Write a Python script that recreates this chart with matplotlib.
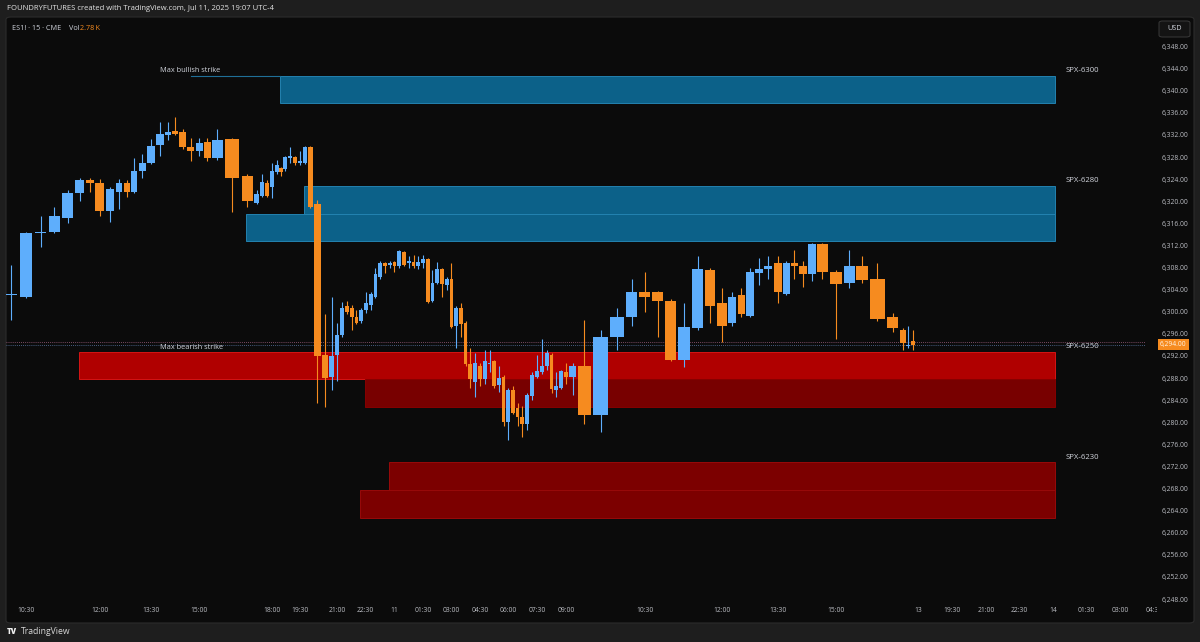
import numpy as np
import pandas as pd
import matplotlib
matplotlib.use("Agg")
import matplotlib.pyplot as plt
from matplotlib.patches import Rectangle, FancyBboxPatch
from matplotlib.transforms import blended_transform_factory

# ---------------------------------------------------------------
# ES1! 15 min bars, Jul 10 10:15 -> Jul 11 16:45 (UTC-4)
# ---------------------------------------------------------------

opens = [6303.0, 6302.75, 6314.25, 6314.5, 6317.0, 6321.5, 6323.75, 6323.25, 6318.25, 6321.75,
         6323.25, 6321.75, 6325.5, 6327.0, 6330.25, 6332.0, 6332.75, 6332.5, 6329.75, 6329.0,
         6330.75, 6327.75, 6331.25, 6324.5, 6319.75, 6321.0, 6323.25, 6322.5, 6325.25, 6326.0,
         6325.75, 6327.75, 6328.0, 6327.0, 6327.0, 6329.75, 6319.5, 6292.25, 6288.25, 6292.25,
         6295.75, 6301.0, 6300.75, 6299.0, 6298.25, 6300.25, 6301.25, 6302.75, 6306.25, 6308.75,
         6308.5, 6309.0, 6308.25, 6310.75, 6308.75, 6309.0, 6308.25, 6308.75, 6309.5, 6302.0,
         6305.25, 6307.75, 6304.75, 6306.0, 6297.5, 6300.75, 6298.0, 6290.5, 6287.25, 6290.25,
         6287.75, 6290.5, 6291.0, 6286.75, 6288.25, 6280.0, 6285.75, 6282.5, 6281.0, 6279.75,
         6284.75, 6288.25, 6289.0, 6290.25, 6292.25, 6285.75, 6286.25, 6289.0, 6288.25, 6290.25,
         6281.25, 6295.5, 6299.0, 6303.5, 6303.5, 6302.0, 6291.25, 6297.0, 6307.5, 6301.5,
         6298.0, 6303.0, 6299.25, 6307.0, 6307.75, 6308.75, 6303.25, 6308.75, 6308.25, 6306.75,
         6312.25, 6307.25, 6305.25, 6308.25, 6306.0, 6299.0, 6296.75, 6293.75, 6294.75]
highs = [6308.5, 6314.5, 6317.25, 6319.0, 6322.0, 6324.25, 6324.25, 6324.0, 6322.5, 6324.0,
         6323.75, 6327.75, 6328.5, 6331.25, 6334.25, 6334.25, 6335.25, 6333.0, 6331.5, 6331.5,
         6331.5, 6333.0, 6331.5, 6325.0, 6322.0, 6325.0, 6323.75, 6327.0, 6327.5, 6326.25,
         6328.25, 6329.75, 6328.25, 6329.0, 6330.0, 6330.0, 6320.25, 6299.5, 6302.75, 6298.0,
         6301.75, 6302.0, 6301.25, 6300.25, 6300.75, 6303.5, 6303.5, 6308.0, 6309.25, 6309.0,
         6309.25, 6309.25, 6311.25, 6311.0, 6310.0, 6310.25, 6310.0, 6310.25, 6309.75, 6307.5,
         6309.0, 6308.0, 6306.25, 6308.75, 6301.0, 6301.5, 6298.25, 6293.5, 6292.5, 6290.75,
         6293.0, 6293.0, 6291.25, 6290.25, 6288.5, 6286.25, 6286.5, 6283.5, 6283.0, 6285.25,
         6289.0, 6292.25, 6295.0, 6293.0, 6292.5, 6289.0, 6289.5, 6290.75, 6290.75, 6298.5,
         6296.75, 6300.75, 6306.0, 6307.25, 6303.75, 6302.25, 6301.5, 6310.0, 6308.0, 6304.25,
         6303.5, 6304.25, 6308.0, 6309.75, 6310.0, 6310.0, 6309.25, 6311.25, 6309.25, 6312.5,
         6312.5, 6307.5, 6311.25, 6310.0, 6308.75, 6299.75, 6297.0, 6297.5, 6296.75]
lows = [6298.5, 6302.5, 6311.75, 6314.25, 6316.0, 6320.0, 6321.75, 6317.25, 6316.25, 6318.5,
        6320.75, 6321.5, 6324.25, 6326.75, 6328.25, 6331.0, 6332.0, 6329.5, 6327.25, 6328.25,
        6327.25, 6327.5, 6318.0, 6319.0, 6319.5, 6320.75, 6320.75, 6320.5, 6325.0, 6324.5,
        6325.5, 6327.0, 6326.5, 6326.5, 6326.75, 6318.75, 6283.5, 6282.75, 6285.75, 6287.5,
        6295.5, 6299.5, 6296.75, 6297.75, 6298.0, 6299.75, 6300.25, 6302.5, 6306.0, 6307.0,
        6308.0, 6307.25, 6308.0, 6308.25, 6308.0, 6308.0, 6307.75, 6308.0, 6301.5, 6301.75,
        6305.0, 6302.75, 6304.0, 6297.0, 6293.5, 6295.5, 6290.25, 6286.25, 6284.5, 6286.5,
        6287.0, 6289.0, 6286.25, 6285.5, 6279.25, 6276.75, 6281.5, 6279.25, 6277.25, 6278.5,
        6284.0, 6288.0, 6288.75, 6289.5, 6285.25, 6284.5, 6286.0, 6287.0, 6285.0, 6279.75,
        6278.25, 6293.0, 6297.5, 6300.0, 6295.5, 6291.0, 6290.0, 6296.75, 6298.0, 6294.5,
        6297.5, 6299.0, 6299.0, 6304.75, 6306.0, 6301.5, 6303.0, 6306.0, 6304.5, 6305.5,
        6306.0, 6295.0, 6304.25, 6305.25, 6298.25, 6296.25, 6293.0, 6293.5, 6293.0]
closes = [6303.25, 6314.25, 6314.5, 6317.25, 6321.5, 6323.75, 6323.25, 6318.25, 6322.25, 6323.25,
          6321.75, 6325.5, 6327.0, 6330.0, 6332.25, 6332.5, 6332.25, 6329.75, 6329.0, 6330.5,
          6327.75, 6331.0, 6324.25, 6320.0, 6321.25, 6323.5, 6321.0, 6325.5, 6326.5, 6325.25,
          6328.0, 6328.25, 6327.0, 6327.25, 6329.75, 6319.0, 6292.0, 6288.0, 6292.0, 6295.75,
          6300.75, 6300.0, 6299.0, 6298.0, 6300.25, 6301.5, 6303.25, 6306.75, 6308.75, 6308.25,
          6308.75, 6308.25, 6311.0, 6308.5, 6309.25, 6308.25, 6309.0, 6309.5, 6301.75, 6305.25,
          6307.75, 6305.0, 6306.0, 6297.25, 6300.75, 6297.75, 6290.5, 6287.75, 6290.75, 6287.75,
          6291.0, 6290.75, 6286.5, 6288.0, 6280.0, 6285.75, 6281.75, 6281.0, 6279.75, 6285.0,
          6288.5, 6289.25, 6290.25, 6292.5, 6286.0, 6286.5, 6289.25, 6288.25, 6290.25, 6281.25,
          6295.5, 6299.0, 6303.5, 6302.75, 6302.0, 6291.25, 6297.25, 6307.75, 6301.0, 6297.5,
          6302.75, 6299.5, 6307.25, 6307.75, 6308.25, 6303.5, 6308.75, 6308.25, 6306.75, 6312.25,
          6307.25, 6305.0, 6308.25, 6305.75, 6298.75, 6297.0, 6294.25, 6294.0, 6294.0]
# relative bar volume (drives bar width on this volume-spaced chart)
bar_volume = [15, 15, 14, 13.5, 13, 11, 9.5, 10.5, 10, 8,
              7, 8, 8.5, 9, 9, 7, 7, 8, 8.5, 8,
              8, 12.5, 17, 13, 6, 4.5, 5, 5, 5, 4,
              4.5, 5, 4.5, 5, 5, 6, 8, 7.5, 6, 5,
              4.5, 5, 5, 4.5, 4.5, 5, 5, 4.5, 4.5, 5,
              5, 4.5, 4.5, 5.5, 5, 4, 5, 5, 4.5, 4.5,
              4.5, 5, 5, 4.5, 4.5, 5, 4.5, 4.5, 5, 5,
              5, 4.5, 4.5, 5, 4.5, 4.5, 5, 4.5, 4.5, 5,
              5, 5, 5, 5, 4.5, 4.5, 5, 5, 8.5, 15,
              17.5, 15.5, 13.5, 13, 13, 13, 13.5, 13.5, 12, 11,
              9.5, 8.5, 9, 9, 9.5, 9.5, 8, 8, 9, 9,
              12, 14.5, 12.5, 13.5, 17, 13.5, 6.5, 4.5, 5]

last_price = 6294.00
prev_line = 6294.50

# strike zones (ES price bands)
zone_low = [6337.75, 6317.75, 6312.75, 6287.75, 6282.75, 6267.75, 6262.75]
zone_high = [6342.75, 6322.75, 6317.75, 6292.75, 6287.75, 6272.75, 6267.75]
zone_start = ["2025-07-10 18:30", "2025-07-10 19:45", "2025-07-10 16:00", "2025-07-10 11:30",
              "2025-07-10 22:30", "2025-07-10 23:45", "2025-07-10 22:15"]
zone_kind = ["call", "call", "call", "put", "put2", "low", "low"]
zone_end = "2025-07-14 00:00"

strike_names = ["SPX-6300", "SPX-6280", "SPX-6250", "SPX-6230"]
strike_tops = [6342.75, 6322.75, 6292.75, 6272.75]

tick_times = ["2025-07-10 10:30", "2025-07-10 12:00", "2025-07-10 13:30", "2025-07-10 15:00",
              "2025-07-10 18:00", "2025-07-10 19:30", "2025-07-10 21:00", "2025-07-10 22:30",
              "2025-07-11 00:00", "2025-07-11 01:30", "2025-07-11 03:00", "2025-07-11 04:30",
              "2025-07-11 06:00", "2025-07-11 07:30", "2025-07-11 09:00", "2025-07-11 10:30",
              "2025-07-11 12:00", "2025-07-11 13:30", "2025-07-11 15:00", "2025-07-13 18:00",
              "2025-07-13 19:30", "2025-07-13 21:00", "2025-07-13 22:30", "2025-07-14 00:00",
              "2025-07-14 01:30", "2025-07-14 03:00", "2025-07-14 04:30"]
tick_labels = ["10:30", "12:00", "13:30", "15:00", "18:00", "19:30", "21:00", "22:30", "11",
               "01:30", "03:00", "04:30", "06:00", "07:30", "09:00", "10:30", "12:00", "13:30",
               "15:00", "13", "19:30", "21:00", "22:30", "14", "01:30", "03:00", "04:30"]

# ---------------------------------------------------------------

UP = "#5eaefc"
DOWN = "#f68b1f"
TXT = "#d1d4dc"
AXT = "#bcbec4"
ZONE_STYLE = {
    "call": ("#0c6189", "#2382b0"),
    "put": ("#b00000", "#d61414"),
    "put2": ("#780000", "#870000"),
    "low": ("#7c0000", "#980a0a"),
}

plt.rcParams["font.family"] = ["Open Sans", "DejaVu Sans"]

W, H = 1200, 642
fig = plt.figure(figsize=(W / 100, H / 100), dpi=100, facecolor="#1e1e1e")


def fx(px):
    return px / W


def fy(py):
    return 1 - py / H


pane = FancyBboxPatch((fx(6), fy(623)), fx(1194) - fx(6), fy(17) - fy(623),
                      boxstyle="round,pad=0,rounding_size=0.004",
                      transform=fig.transFigure, fc="#0b0b0b", ec="#2c2c2c",
                      lw=0.8, zorder=-5)
fig.patches.append(pane)

ax = fig.add_axes([fx(6), fy(600), fx(1146) - fx(6), fy(17) - fy(600)])
ax.set_facecolor("none")
for s in ax.spines.values():
    s.set_visible(False)

# bar positions from volume
vol = np.array(bar_volume, dtype=float)
centers = np.cumsum(vol) - vol / 2
body_w = vol * 0.85

times = list(pd.date_range("2025-07-10 10:15", "2025-07-10 16:45", freq="15min")) + \
    list(pd.date_range("2025-07-10 18:00", "2025-07-11 16:45", freq="15min"))

# pixels per volume unit, so first/last bars land where TradingView put them
k = (913 - 11) / (centers[-1] - centers[0])
x0 = centers[0] - 5 / k
x1 = x0 + 1140 / k
step = 5.6 / k   # empty future bars use the default bar spacing

future = pd.date_range("2025-07-13 18:00", periods=60, freq="15min")
fut_x = centers[-1] + step * np.arange(1, len(future) + 1)

xmap = dict(zip(times, centers))
xmap.update(dict(zip(future, fut_x)))


def xpos(t):
    return xmap[pd.Timestamp(t)]


# zones
x_end = xpos(zone_end) + step * 0.3
for lo, hi, st, kind in zip(zone_low, zone_high, zone_start, zone_kind):
    fc, ec = ZONE_STYLE[kind]
    xs = xpos(st) - 1 / k
    ax.add_patch(Rectangle((xs, lo), x_end - xs, hi - lo, fc=fc, ec=ec, lw=0.7, zorder=1))

for name, top in zip(strike_names, strike_tops):
    ax.text(xpos("2025-07-14 00:30") + 1 / k, top + 0.3, name, color=TXT, fontsize=5.6,
            ha="left", va="bottom", zorder=6)

# max strike labels
ax.plot([xpos("2025-07-10 14:45"), xpos(zone_start[0]) - 1 / k],
        [zone_high[0], zone_high[0]], color="#1f6f98", lw=0.8, zorder=2)
ax.text(xpos("2025-07-10 13:45"), zone_high[0] + 0.85, "Max bullish strike",
        color=TXT, fontsize=5.3, ha="left", va="center", zorder=6)
ax.text(xpos("2025-07-10 13:45"), zone_high[3] + 0.85, "Max bearish strike",
        color=TXT, fontsize=5.3, ha="left", va="center", zorder=6)

# dotted price lines
ax.axhline(prev_line, color="#a0607e", lw=0.6, ls=(0, (1, 1.5)), zorder=3)
ax.axhline(last_price, color="#5a7aa8", lw=0.6, ls=(0, (1, 1.5)), zorder=3)

# candles
for i in range(len(opens)):
    o, h, l, c = opens[i], highs[i], lows[i], closes[i]
    col = UP if c >= o else DOWN
    ax.vlines(centers[i], l, h, color=col, lw=0.8, zorder=4)
    bot = min(o, c)
    ht = max(abs(c - o), 0.2)
    ax.add_patch(Rectangle((centers[i] - body_w[i] / 2, bot), body_w[i], ht,
                           fc=col, ec="none", zorder=5))

ax.set_xlim(x0, x1)
ax.set_ylim(6247.82, 6353.34)

# price scale
ax.yaxis.tick_right()
yt = np.arange(6248, 6349, 4)
ax.set_yticks(yt)
ax.set_yticklabels([f"{v:,.2f}" for v in yt])
ax.tick_params(axis="y", length=0, pad=11.5, labelsize=4.9, labelcolor=AXT)

# time scale (drawn as text: the last label sits under the price scale)
ax.set_xticks([])
tx = ax.get_xaxis_transform()
for t, lab in zip(tick_times, tick_labels):
    ax.text(xpos(t), -10 / 583, lab, transform=tx, fontsize=4.9, color=AXT,
            ha="center", va="center", clip_on=False)

# last price tag
tr = blended_transform_factory(ax.transAxes, ax.transData)
ax.text((1160 - 6) / 1140, last_price, f"{last_price:,.2f}", transform=tr,
        fontsize=4.8, color="#fff4e6", ha="left", va="center", clip_on=False, zorder=8,
        bbox=dict(boxstyle="square,pad=0.3", fc="#f68b1f", ec="none"))

# hide the part of the last time label that runs under the price scale
fig.patches.append(Rectangle((fx(1157), fy(620)), fx(1192) - fx(1157), fy(603) - fy(620),
                             transform=fig.transFigure, fc="#0b0b0b", ec="none", zorder=5))

# USD box
fig.patches.append(FancyBboxPatch((fx(1159), fy(37)), fx(1190) - fx(1159), fy(21) - fy(37),
                                  boxstyle="round,pad=0,rounding_size=0.003",
                                  transform=fig.transFigure, fc="#141414", ec="#3a3a3a",
                                  lw=0.7, zorder=5))
fig.text(fx(1174.5), fy(29), "USD", color=TXT, fontsize=5.2, ha="center", va="center", zorder=6)

# header texts
fig.text(fx(7), fy(9), "FOUNDRYFUTURES created with TradingView.com, Jul 11, 2025 19:07 UTC-4",
         color="#e4e4e4", fontsize=5.5, ha="left", va="center")
fig.text(fx(12), fy(28), "ES1! \u00b7 15 \u00b7 CME", color=TXT, fontsize=5.2, ha="left", va="center")
fig.text(fx(69), fy(28), "Vol", color=TXT, fontsize=5.2, ha="left", va="center")
fig.text(fx(80.5), fy(28), "2.78\u2009K", color="#f68b1f", fontsize=5.2, ha="left", va="center")

# footer
fig.text(fx(7), fy(632), "TV", color="#f0f0f0", fontsize=5.6, weight="heavy",
         ha="left", va="center")
fig.text(fx(21), fy(632), "TradingView", color="#d8d8d8", fontsize=6.2, ha="left", va="center")

fig.savefig("out.png", dpi=100, facecolor=fig.get_facecolor())
